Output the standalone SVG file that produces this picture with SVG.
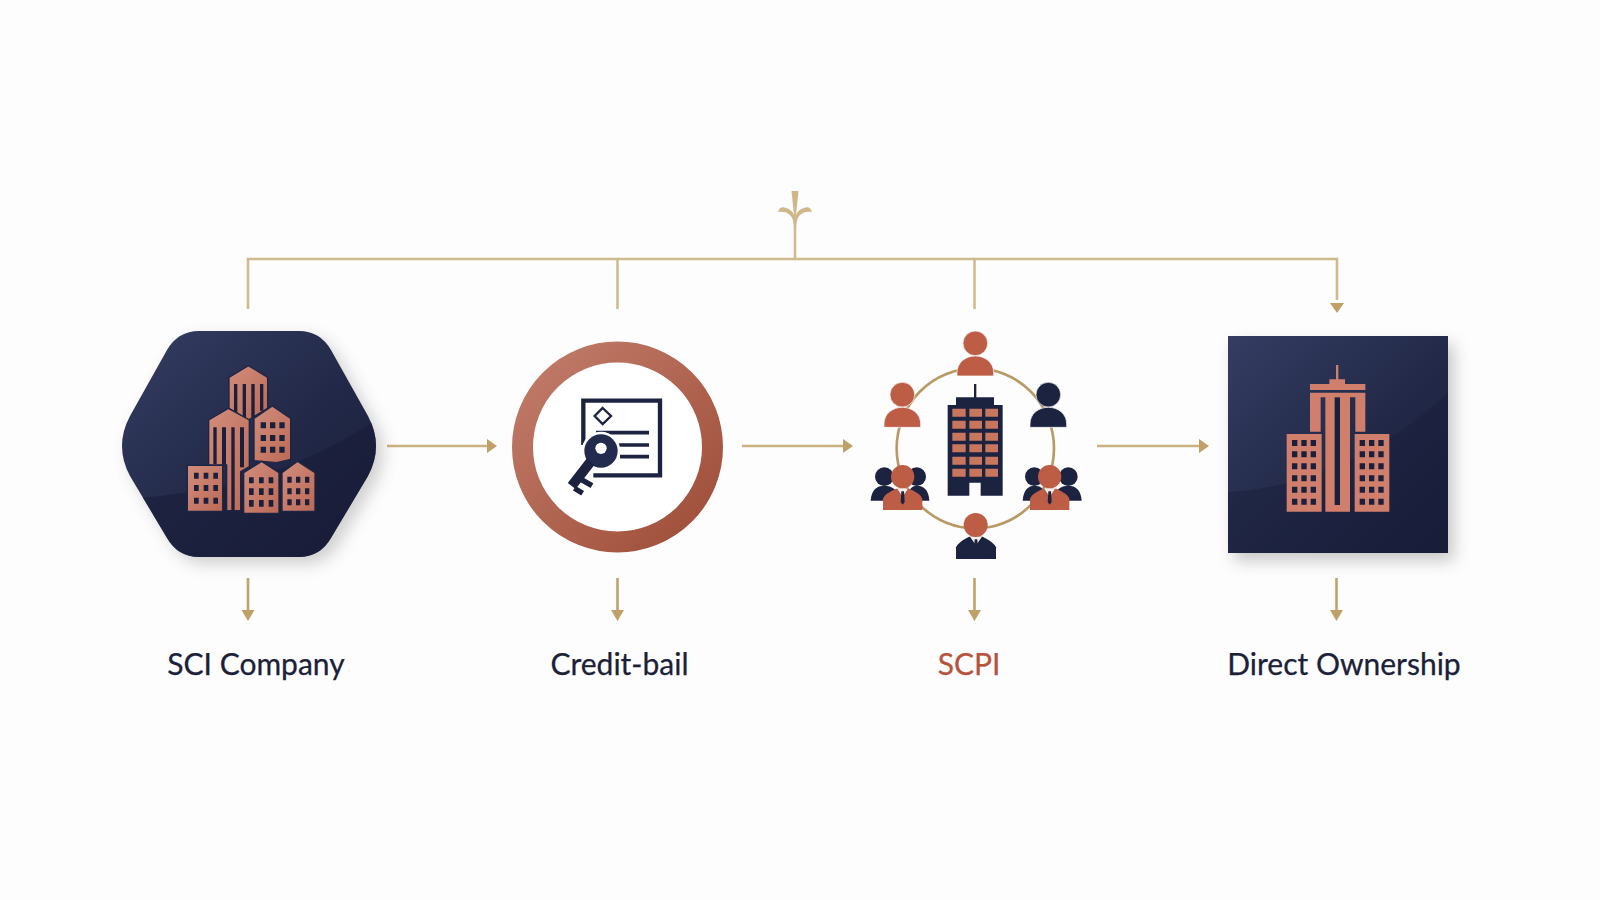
<svg xmlns="http://www.w3.org/2000/svg" xmlns:xlink="http://www.w3.org/1999/xlink" width="1600" height="900" viewBox="0 0 1600 900">
<style>
.g{stroke:#d0bb8e;stroke-width:2.600;fill:none}
.d{stroke:#bfa36c;stroke-width:2.600;fill:none}
.h{fill:#bfa067}
.lbl{font-family:Lato,"Liberation Sans",sans-serif;font-size:30px;font-weight:400;fill:#1a2138;text-anchor:middle;stroke:#1a2138;stroke-width:.25}
.cu{fill:url(#cu);stroke:#1e2544;stroke-width:4}
.w{fill:#1a1f3c}
.n{fill:#1c2340}
.c{fill:#bd5d45}
</style>
<defs>
<linearGradient id="navy" x1="0" y1="0" x2="1" y2="1"><stop offset="0" stop-color="#343d62"/><stop offset=".55" stop-color="#222948"/><stop offset="1" stop-color="#191d39"/></linearGradient>
<linearGradient id="cu" x1="0" y1="0" x2="1" y2="1" gradientUnits="objectBoundingBox"><stop offset="0" stop-color="#d28d7c"/><stop offset="1" stop-color="#bb6a55"/></linearGradient>
<linearGradient id="ring" x1="0" y1="0" x2="1" y2="1"><stop offset="0" stop-color="#c27d6b"/><stop offset="1" stop-color="#9e4d38"/></linearGradient>
<filter id="sh" x="-20%" y="-20%" width="150%" height="150%"><feGaussianBlur stdDeviation="8"/></filter>
<clipPath id="hexc"><path d="M199,331H299Q320,331 331,350L368,416Q384,446 368,476L331,538Q320,557 299,557H199Q178,557 167,538L130,476Q114,446 130,416L167,350Q178,331 199,331Z"/></clipPath>
<g id="p"><circle cx="0" cy="0" r="37"/><path d="M-55,98V88C-55,58 -30,38 0,38C30,38 55,58 55,88V98Z"/></g>
<g id="boss"><circle cx="0" cy="0" r="35" class="c"/><path class="c" d="M-59,100V66Q-56,52 -20,36H20Q56,52 59,66V100Z"/><path d="M-16,36L0,60L16,36Z" fill="#f5f0ec"/><path class="n" d="M-4,44H4L6,76L0,84L-6,76Z"/></g>
</defs>
<rect width="1600" height="900" fill="#fdfdfd"/>

<g id="connectors">
<path class="g" d="M248,309V259H1337V300"/>
<path class="g" d="M617.500,259V309M974.500,259V309M795,259V215"/>
<path fill="#cfb78a" d="M791.500,191H798.500L796,215C797,212 800,209 804,208C808,206 811,208 812,212C807,211 803,212 800,215C797,218 796,223 796,228H794C794,223 793,218 790,215C787,212 783,211 778,212C779,208 782,206 786,208C790,209 793,212 794,215Z"/>
<path class="h" d="M1330,303H1344L1337,313Z"/>
<path class="g" d="M387,446H488M742,446H844M1097,446H1200" style="stroke:#cab17f"/>
<path class="d" d="M248,578V612M617.500,578V612M974.500,578V612M1336.500,578V612"/>
<path class="h" d="M487,439L497,446L487,453ZM843,439L853,446L843,453ZM1199,439L1209,446L1199,453Z"/>
<path class="h" d="M241.500,610H254.500L248,621ZM611,610H624L617.500,621ZM968,610H981L974.500,621ZM1330,610H1343L1336.500,621Z"/>
</g>

<g id="node-sci">
<path d="M199,331H299Q320,331 331,350L368,416Q384,446 368,476L331,538Q320,557 299,557H199Q178,557 167,538L130,476Q114,446 130,416L167,350Q178,331 199,331Z" transform="translate(7,7)" fill="#666" opacity=".3" filter="url(#sh)"/>
<path d="M199,331H299Q320,331 331,350L368,416Q384,446 368,476L331,538Q320,557 299,557H199Q178,557 167,538L130,476Q114,446 130,416L167,350Q178,331 199,331Z" fill="url(#navy)"/>
<g clip-path="url(#hexc)"><path d="M110,500C220,495 300,470 376,420V570H110Z" fill="#171b37" opacity=".55"/></g>
<g transform="translate(110,170) scale(.33333)">
<path class="cu" d="M357,622L415,587L473,622V715L415,750L357,715Z"/>
<path class="w" d="M372,642h10v98h-10zM398,642h10v105h-10zM424,642h10v100h-10zM450,642h10v80h-10z"/>
<path class="cu" d="M296,750L355,715L418,750V890L392,905V1022H350V885H296Z"/>
<path class="w" d="M310,772h10v110h-10zM336,772h12v112h-12zM364,772h10v250h-10zM390,772h12v120h-12z"/>
<path class="cu" d="M432,745L487,708L542,745V868L500,878L432,872Z"/>
<path class="cu" d="M232,886H338V1024H232Z"/>
<path class="cu" d="M401,908L455,874L507,908V1030H401Z"/>
<path class="cu" d="M516,908L563,874L615,908V1024H516Z"/>
<path class="w" d="M452,757h16v18h-16zM480,757h16v18h-16zM508,757h16v18h-16zM452,795h16v18h-16zM480,795h16v18h-16zM508,795h16v18h-16zM452,830h16v18h-16zM480,830h16v18h-16zM508,830h16v18h-16z"/>
<path class="w" d="M252,908h14v18h-14zM281,908h14v18h-14zM310,908h14v18h-14zM252,945h14v18h-14zM281,945h14v18h-14zM310,945h14v18h-14zM252,983h14v18h-14zM281,983h14v18h-14zM310,983h14v18h-14z"/>
<path class="w" d="M417,922h14v18h-14zM447,922h14v18h-14zM476,922h14v18h-14zM417,955h14v20h-14zM447,955h14v20h-14zM476,955h14v20h-14zM417,990h14v20h-14zM447,990h14v20h-14zM476,990h14v20h-14z"/>
<path class="w" d="M532,920h13v18h-13zM558,920h13v18h-13zM585,920h13v18h-13zM532,955h13v18h-13zM558,955h13v18h-13zM585,955h13v18h-13zM532,988h13v18h-13zM558,988h13v18h-13zM585,988h13v18h-13z"/>
</g>
</g>

<g id="node-credit">
<circle cx="617.500" cy="447" r="95" fill="#fff" stroke="url(#ring)" stroke-width="21"/>
<g transform="translate(500,320) scale(.33333)">
<path d="M250,375V242H480V466H280" fill="none" stroke="#1c2340" stroke-width="13"/>
<path d="M308,264L333,288L308,312L284,288Z" fill="none" stroke="#1c2340" stroke-width="7"/>
<path d="M288,338H447M355,375H447M360,410H447" stroke="#1c2340" stroke-width="11" fill="none"/>
<circle cx="303" cy="393" r="58" fill="#fff"/>
<circle cx="303" cy="393" r="50" fill="#232b4e"/>
<circle cx="303" cy="385" r="17" fill="#fff"/>
<path d="M272,425L215,498" stroke="#1c2340" stroke-width="30" fill="none"/>
<path d="M243,478L276,497M223,505L248,520" stroke="#1c2340" stroke-width="16" fill="none"/>
</g>
</g>

<g id="node-scpi">
<g transform="translate(850,320) scale(.33333)">
<ellipse cx="376" cy="385" rx="236" ry="240" fill="none" stroke="#b89a64" stroke-width="8"/>
<path class="n" d="M372,192h7v42h-7zM318,232H432V255H458V527H392V488H358V527H293V255H318Z"/>
<path fill="#c9765f" d="M307,266h40v24h-40zM358,266h38v24h-38zM406,266h38v24h-38zM307,302h40v24h-40zM358,302h38v24h-38zM406,302h38v24h-38zM307,338h40v24h-40zM358,338h38v24h-38zM406,338h38v24h-38zM307,373h40v24h-40zM358,373h38v24h-38zM406,373h38v24h-38zM307,410h40v24h-40zM358,410h38v24h-38zM406,410h38v24h-38zM307,446h40v24h-40zM358,446h38v24h-38zM406,446h38v24h-38z"/>
<use xlink:href="#p" href="#p" x="376" y="70" class="c" stroke="#fff" stroke-width="2"/>
<use xlink:href="#p" href="#p" x="157" y="224" class="c" stroke="#fff" stroke-width="2"/>
<use xlink:href="#p" href="#p" x="595" y="224" class="n" stroke="#fff" stroke-width="2"/>
<g class="n"><circle cx="103" cy="470" r="28"/><path d="M62,542C64,510 80,497 103,497C125,497 148,510 150,542Z"/><circle cx="200" cy="470" r="28"/><path d="M170,542C172,510 185,497 200,497C222,497 236,510 238,542Z"/></g>
<g class="n"><circle cx="553" cy="470" r="28"/><path d="M518,542C520,510 535,497 553,497C575,497 588,510 590,542Z"/><circle cx="655" cy="470" r="28"/><path d="M610,542C612,510 632,497 655,497C677,497 693,510 695,542Z"/></g>
<use xlink:href="#boss" href="#boss" x="158" y="470"/>
<use xlink:href="#boss" href="#boss" x="599" y="470"/>
<path class="n" d="M318,717V682Q322,668 357,650H398Q434,668 438,682V717Z"/>
<path d="M360,650L378,676L396,650Z" fill="#f5f0ec"/><path class="n" d="M374,658H382L384,690L378,700L372,690Z"/>
<circle cx="377" cy="615" r="36" class="c"/>
</g>
</g>

<g id="node-direct">
<rect x="1234" y="344" width="220" height="217" fill="#666" opacity=".35" filter="url(#sh)"/>
<rect x="1228" y="336" width="220" height="217" fill="url(#navy)"/>
<path d="M1228,492C1300,490 1390,450 1448,392V553H1228Z" fill="#171b37" opacity=".4"/>
<g transform="translate(1210,320) scale(.33333)" fill="#cf7f6b">
<path d="M378,135h7v45h-7zM358,178H405V192H358ZM300,192H466V210H300ZM300,218H466V335H436V232H420V575H346V232H332V335H300Z"/>
<path class="w" d="M374,232h16v323h-16z"/>
<path d="M230,342H335V575H230ZM434,342H538V575H434Z"/>
<path class="w" d="M246,360h16v18h-16zM274,360h16v18h-16zM302,360h16v18h-16zM246,394h16v18h-16zM274,394h16v18h-16zM302,394h16v18h-16zM246,430h16v18h-16zM274,430h16v18h-16zM302,430h16v18h-16zM246,466h16v18h-16zM274,466h16v18h-16zM302,466h16v18h-16zM246,500h16v18h-16zM274,500h16v18h-16zM302,500h16v18h-16zM246,536h16v18h-16zM274,536h16v18h-16zM302,536h16v18h-16z"/>
<path class="w" d="M449,360h16v18h-16zM477,360h16v18h-16zM505,360h16v18h-16zM449,394h16v18h-16zM477,394h16v18h-16zM505,394h16v18h-16zM449,430h16v18h-16zM477,430h16v18h-16zM505,430h16v18h-16zM449,466h16v18h-16zM477,466h16v18h-16zM505,466h16v18h-16zM449,500h16v18h-16zM477,500h16v18h-16zM505,500h16v18h-16zM449,536h16v18h-16zM477,536h16v18h-16zM505,536h16v18h-16z"/>
</g>
</g>

<text class="lbl" x="256" y="675">SCI Company</text>
<text class="lbl" x="619.500" y="675">Credit-bail</text>
<text class="lbl" x="969" y="675" style="fill:#b5533c;stroke:#b5533c">SCPI</text>
<text class="lbl" x="1344" y="675">Direct Ownership</text>
</svg>
